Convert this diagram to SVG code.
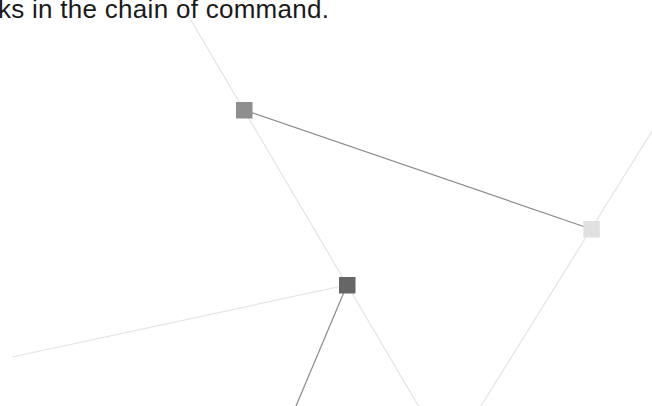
<svg xmlns="http://www.w3.org/2000/svg" width="652" height="406" viewBox="0 0 652 406">
<style>
.light{stroke:#e4e4e4;stroke-width:1.2;fill:none}
.dark{stroke:#8a8a8a;stroke-width:1.2;fill:none}
.cap{font-family:"Liberation Sans",Arial,sans-serif;font-size:26px;fill:#1a1a1a}
</style>
<rect width="652" height="406" fill="#ffffff"/>
<g id="connectors">
<line class="light" x1="179" y1="0" x2="418.5" y2="406"/>
<line class="light" x1="652" y1="131" x2="481" y2="406"/>
<line class="light" x1="347" y1="285" x2="12" y2="357"/>
<line class="dark" x1="244" y1="110" x2="591" y2="229"/>
<line class="dark" x1="347" y1="285" x2="296" y2="406"/>
</g>
<g id="caption">
<text class="cap" x="-2" y="18" textLength="331" lengthAdjust="spacing">ks in the chain of command.</text>
</g>
<g id="node1"><rect x="236" y="102" width="16.5" height="16.5" fill="#8e8e8e"/></g>
<g id="node2"><rect x="583.3" y="221" width="16.5" height="16.5" fill="#e0e0e0"/></g>
<g id="node3"><rect x="339" y="277" width="16.5" height="16.5" fill="#666666"/></g>
</svg>
